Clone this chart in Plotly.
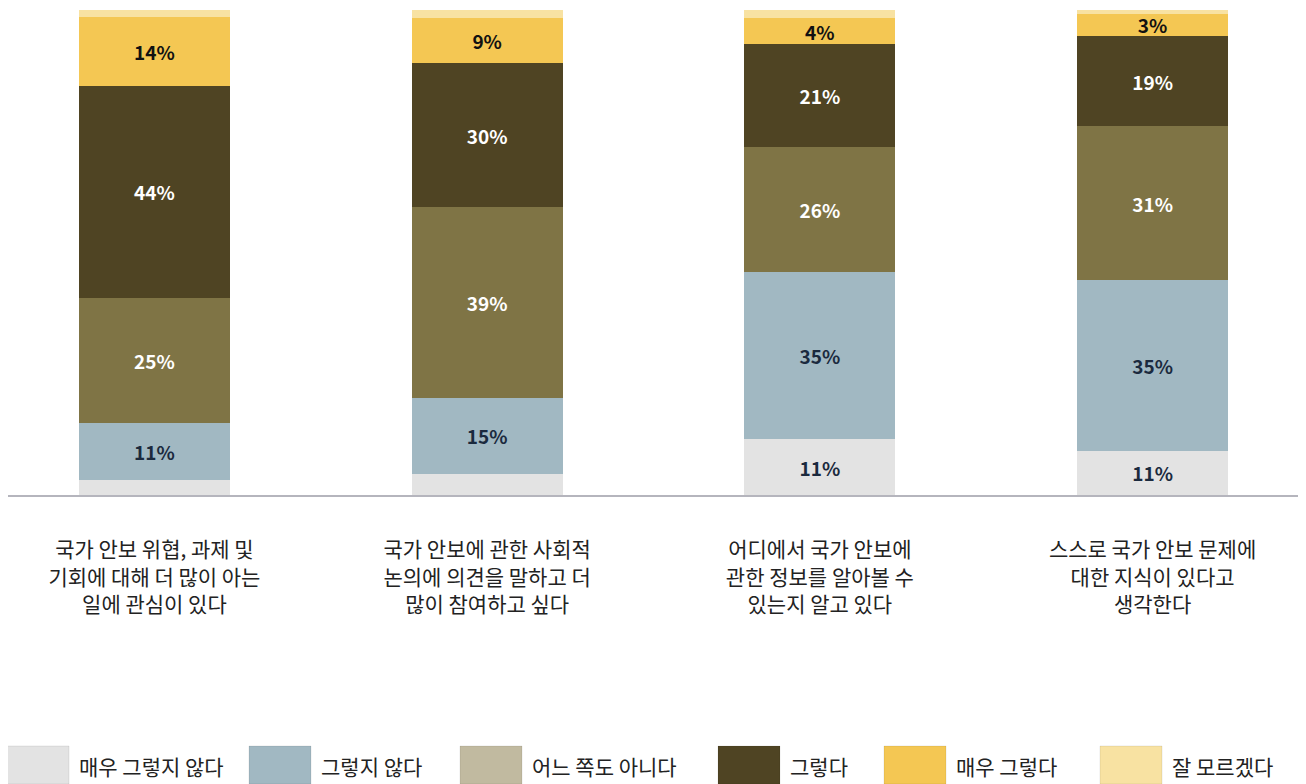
import plotly.graph_objects as go

# 문항 (x축 카테고리)
categories = [
    "국가 안보 위협, 과제 및<br>기회에 대해 더 많이 아는<br>일에 관심이 있다",
    "국가 안보에 관한 사회적<br>논의에 의견을 말하고 더<br>많이 참여하고 싶다",
    "어디에서 국가 안보에<br>관한 정보를 알아볼 수<br>있는지 알고 있다",
    "스스로 국가 안보 문제에<br>대한 지식이 있다고<br>생각한다",
]

# 응답 비율 (%)
strongly_disagree = [3.1, 4.3, 11.5, 9.1]
disagree = [11.7, 15.8, 34.4, 35.2]
neutral = [25.9, 39.3, 25.9, 31.7]
agree = [43.6, 29.6, 21.2, 18.7]
strongly_agree = [14.2, 9.3, 5.3, 4.5]
dont_know = [1.4, 1.6, 1.6, 0.8]

# 막대 안 라벨
strongly_disagree_lbl = ["", "", "11%", "11%"]
disagree_lbl = ["11%", "15%", "35%", "35%"]
neutral_lbl = ["25%", "39%", "26%", "31%"]
agree_lbl = ["44%", "30%", "21%", "19%"]
strongly_agree_lbl = ["14%", "9%", "4%", "3%"]
dont_know_lbl = ["", "", "", ""]

series_names = ["매우 그렇지 않다", "그렇지 않다", "어느 쪽도 아니다", "그렇다", "매우 그렇다", "잘 모르겠다"]

FONT = "Noto Sans CJK KR, Noto Sans, sans-serif"
# 페이지 기본 여백(8px) 만큼 그림이 밀리므로 그만큼 작게 잡는다
OFF = 8
W, H = 1306 - OFF, 784 - OFF
L, R, T, B = 0, 6, 2, 289

series = [
    (strongly_disagree, strongly_disagree_lbl, "#e3e3e3", "#1b2a3e"),
    (disagree, disagree_lbl, "#a1b8c2", "#1b2a3e"),
    (neutral, neutral_lbl, "#7f7445", "#ffffff"),
    (agree, agree_lbl, "#4f4423", "#ffffff"),
    (strongly_agree, strongly_agree_lbl, "#f4c753", "#111111"),
    (dont_know, dont_know_lbl, "#f8e2a2", "#111111"),
]
legend_colors = ["#e3e3e3", "#a1b8c2", "#c1baa0", "#4f4423", "#f4c753", "#f8e2a2"]

fig = go.Figure()
for name, (vals, lbls, col, tcol) in zip(series_names, series):
    fig.add_trace(go.Bar(
        x=categories, y=vals, name=name, text=lbls,
        marker=dict(color=col, line=dict(width=0)),
        textposition="inside", insidetextanchor="middle", textangle=0,
        constraintext="none",
        textfont=dict(family=FONT, size=19, color=tcol, weight="bold"),
        showlegend=False, hoverinfo="skip",
    ))

# 범례: 큰 색 상자 + 텍스트 (화면 픽셀 -> paper 좌표)
plot_w = W - L - R
plot_h = H - T - B


def px_x(px):
    return (px - OFF - L) / plot_w


def px_y(py):
    return (H - B - (py - OFF)) / plot_h


legend_x = [7, 249, 460, 718, 884, 1100]
shapes = []
annotations = []
for lx, name, col in zip(legend_x, series_names, legend_colors):
    shapes.append(dict(
        type="rect", xref="paper", yref="paper",
        x0=px_x(lx), x1=px_x(lx + 62), y0=px_y(784), y1=px_y(746),
        fillcolor=col, line=dict(color="rgba(0,0,0,0.08)", width=1),
    ))
    annotations.append(dict(
        xref="paper", yref="paper", x=px_x(lx + 70), y=px_y(766),
        xanchor="left", yanchor="middle", text=name, showarrow=False,
        font=dict(family=FONT, size=21, color="#222222"),
    ))

fig.update_layout(
    barmode="stack",
    bargap=0.546,
    width=W, height=H,
    margin=dict(l=L, r=R, t=T, b=B),
    paper_bgcolor="white",
    plot_bgcolor="white",
    font=dict(family=FONT, size=18, color="#222222"),
    xaxis=dict(
        range=[-0.440, 3.443], showline=True, linecolor="#b5b5bd", linewidth=2,
        ticks="", showgrid=False, ticklabelstandoff=35,
        tickfont=dict(family=FONT, size=21, color="#222222"),
    ),
    yaxis=dict(range=[0, 100], visible=False, showgrid=False),
    shapes=shapes,
    annotations=annotations,
    uniformtext=dict(mode=False),
)

fig.write_html("out.html")
